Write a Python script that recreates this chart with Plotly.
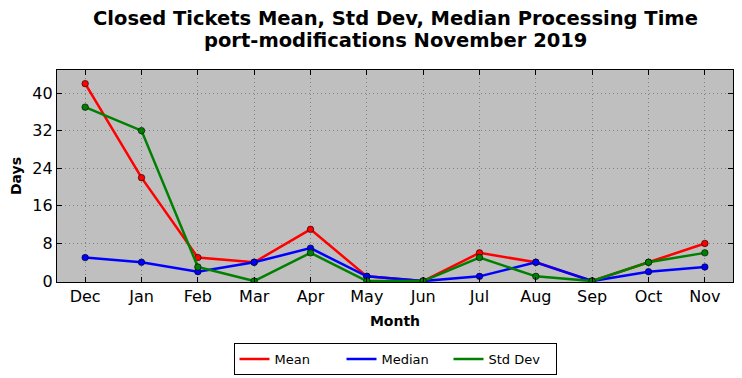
import plotly.graph_objects as go

months = ["Dec", "Jan", "Feb", "Mar", "Apr", "May", "Jun", "Jul", "Aug", "Sep", "Oct", "Nov"]
mean_days = [42, 22, 5, 4, 11, 1, 0, 6, 4, 0, 4, 8]
median_days = [5, 4, 2, 4, 7, 1, 0, 1, 4, 0, 2, 3]
std_days = [37, 32, 3, 0, 6, 0, 0, 5, 1, 0, 4, 6]
y_ticks = [0, 8, 16, 24, 32, 40]
title_lines = ["Closed Tickets Mean, Std Dev, Median Processing Time",
               "port-modifications November 2019"]

FONT = "DejaVu Sans"
series = [("Mean", mean_days, "#ff0000"),
          ("Median", median_days, "#0000ff"),
          ("Std Dev", std_days, "#008000")]
fig = go.Figure()
for name, vals, col in series:
    fig.add_trace(go.Scatter(
        x=list(range(len(months))), y=vals, name=name, mode="lines+markers",
        showlegend=False,
        line=dict(color=col, width=2.5),
        marker=dict(color=col, size=6.5, line=dict(color="black", width=0.6)),
    ))
for name, vals, col in series:
    fig.add_trace(go.Scatter(
        x=[None], y=[None], name=name, mode="lines",
        line=dict(color=col, width=2.5),
    ))

# page body has an 8px margin, so the figure is 8px smaller than the window
for text, ypos in zip(title_lines, [1.2406, 1.1368]):
    fig.add_annotation(text=f"<b>{text}</b>", xref="paper", yref="paper",
                       x=0.5, y=ypos, xanchor="center", yanchor="middle",
                       showarrow=False, font=dict(family=FONT, size=19.5, color="black"))

fig.update_layout(
    width=734, height=370,
    margin=dict(l=49, r=9, t=62, b=96, autoexpand=False),
    paper_bgcolor="white", plot_bgcolor="#bfbfbf",
    font=dict(family=FONT, color="black", size=16),
    showlegend=True,
    legend=dict(orientation="h", x=0.5, xanchor="center", y=-0.288, yanchor="top",
                bordercolor="black", borderwidth=1, bgcolor="white",
                font=dict(family=FONT, size=13),
                traceorder="normal", entrywidth=62, entrywidthmode="pixels"),
)
fig.update_xaxes(
    range=[-0.5, 11.5], tickmode="array", tickvals=list(range(len(months))), ticktext=months,
    showline=True, linecolor="black", linewidth=1.2, mirror="allticks",
    ticks="inside", ticklen=5, tickcolor="black", automargin=False,
    showgrid=True, gridcolor="#808080", griddash="1px,3px", gridwidth=1, zeroline=False,
    title=dict(text="<b>Month</b>", font=dict(family=FONT, size=14), standoff=10),
    tickfont=dict(size=16),
)
fig.update_yaxes(
    range=[-0.2, 44.9], tickmode="array", tickvals=y_ticks,
    showline=True, linecolor="black", linewidth=1.2, mirror="allticks",
    ticks="inside", ticklen=5, tickcolor="black", automargin=False,
    showgrid=True, gridcolor="#808080", griddash="1px,3px", gridwidth=1, zeroline=False,
    title=dict(text="<b>Days</b>", font=dict(family=FONT, size=14), standoff=8),
    tickfont=dict(size=16),
)
fig.write_html("out.html")
